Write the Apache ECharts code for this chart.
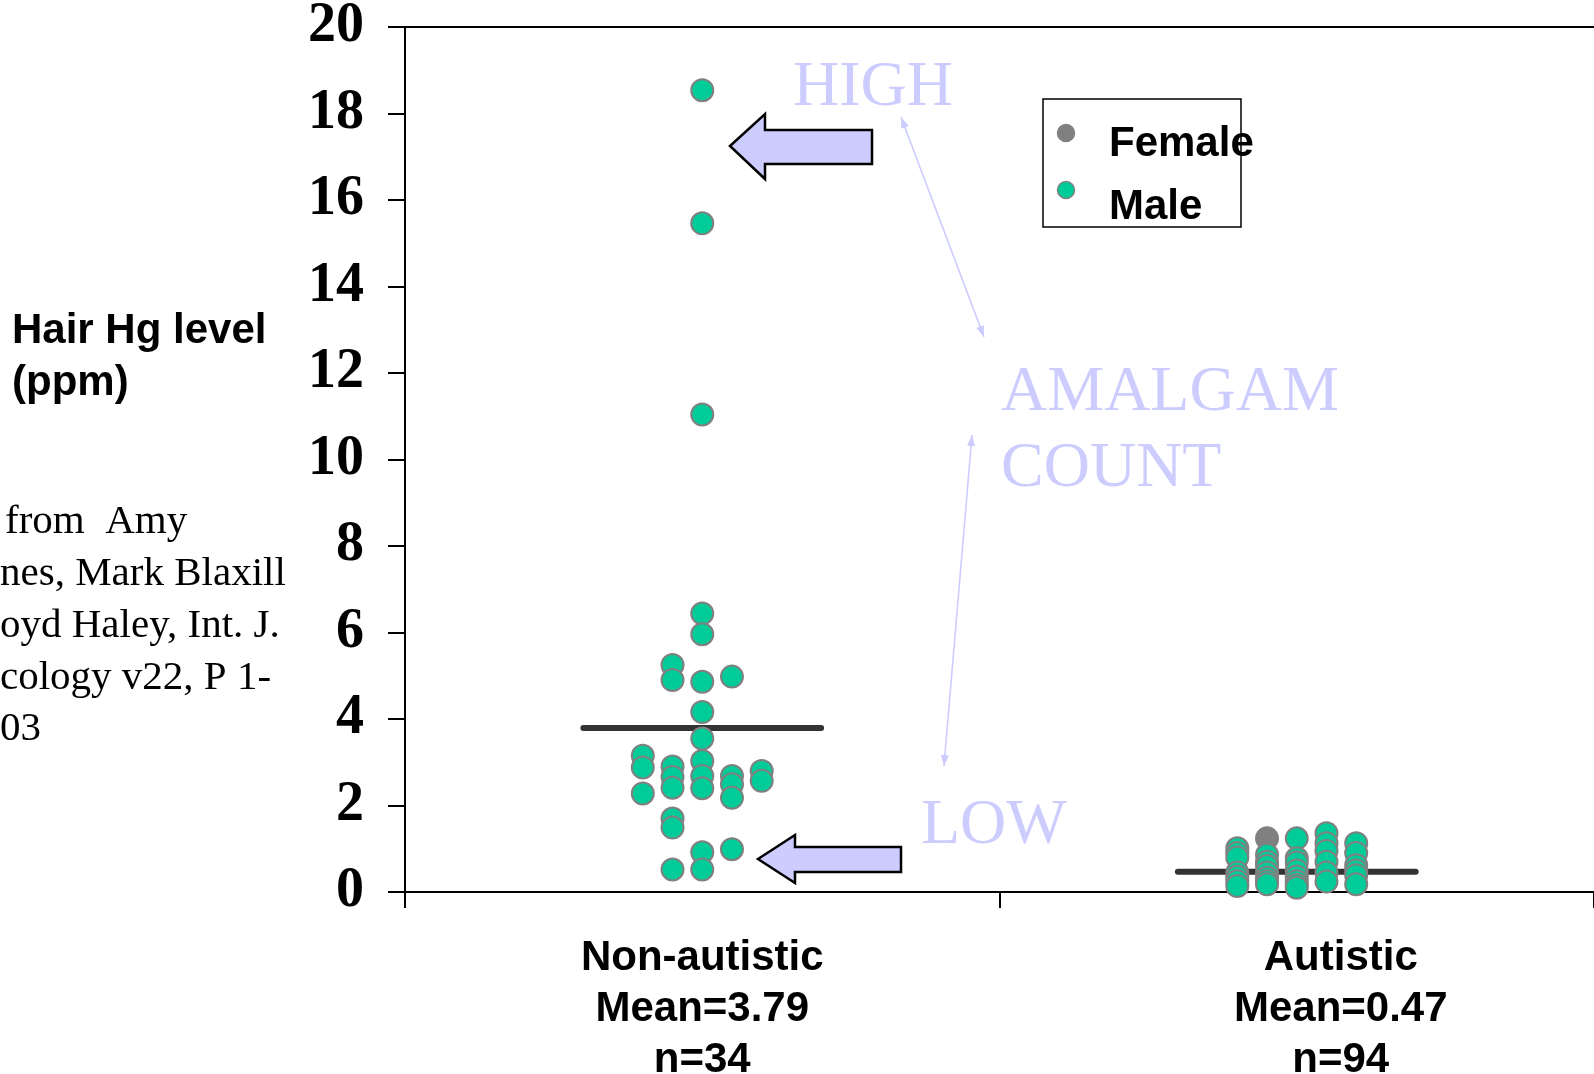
<!DOCTYPE html>
<html>
<head>
<meta charset="utf-8">
<script src="https://cdn.jsdelivr.net/npm/echarts@6/dist/echarts.min.js"></script>
<style>
  html, body { margin: 0; padding: 0; background: #fff; }
  #chart { width: 1594px; height: 1074px; }
</style>
</head>
<body>
<div id="chart"></div>
<script>
// groups on the x axis
const categories = ['Non-autistic', 'Autistic'];
const groupMeans = [3.79, 0.47];
const groupCounts = [34, 94];

// y axis ticks
const yMin = 0;
const yMax = 20;
const yStep = 2;

// points: [jitter column (-2..2), hair Hg ppm]
const nonAutisticMale = [
  [0, 18.54], [0, 15.46], [0, 11.04], [0, 6.44], [0, 5.96],
  [-1, 5.25], [-1, 4.90], [0, 4.86], [1, 4.98], [0, 4.16], [0, 3.55],
  [-2, 3.15], [0, 3.03], [-2, 2.88], [-1, 2.90], [2, 2.80],
  [-1, 2.66], [0, 2.68], [1, 2.68], [2, 2.57], [1, 2.49],
  [-1, 2.41], [0, 2.40], [-2, 2.28], [1, 2.18],
  [-1, 1.70], [-1, 1.49], [1, 0.99], [0, 0.92], [-1, 0.52], [0, 0.52]
];
const autisticFemale = [[-1, 1.24]];
const autisticMale = [
  [-2, 1.01], [-2, 0.90], [-2, 0.80], [-2, 0.45], [-2, 0.35], [-2, 0.25], [-2, 0.14],
  [-1, 0.86], [-1, 0.70], [-1, 0.60], [-1, 0.45], [-1, 0.33], [-1, 0.25], [-1, 0.18],
  [0, 1.24], [0, 0.78], [0, 0.68], [0, 0.50], [0, 0.36], [0, 0.25], [0, 0.16], [0, 0.10],
  [1, 1.36], [1, 1.13], [1, 0.95], [1, 0.70], [1, 0.45], [1, 0.24],
  [2, 1.13], [2, 0.90], [2, 0.62], [2, 0.50], [2, 0.39], [2, 0.18]
];

const GREEN = '#00CC99';
const GREY = '#808080';
const LILAC = '#CCCCFF';
const SANS = '"Liberation Sans", Arial, sans-serif';
const SERIF = '"Liberation Serif", "Times New Roman", serif';

const colStep = 0.05;
const meanHalf = 0.2;
const toXY = (center) => (p) => [center + p[0] * colStep, p[1]];

const chart = echarts.init(document.getElementById('chart'));

function arrowHead(tip, from, len, half) {
  const dx = tip[0] - from[0], dy = tip[1] - from[1];
  const d = Math.hypot(dx, dy);
  const ux = dx / d, uy = dy / d;
  const bx = tip[0] - ux * len, by = tip[1] - uy * len;
  return [[tip[0], tip[1]], [bx - uy * half, by + ux * half], [bx + uy * half, by - ux * half]];
}

function doubleArrow(a, b) {
  return [
    { type: 'line', shape: { x1: a[0], y1: a[1], x2: b[0], y2: b[1] }, style: { stroke: LILAC, lineWidth: 1.6 } },
    { type: 'polygon', shape: { points: arrowHead(a, b, 11, 4) }, style: { fill: LILAC } },
    { type: 'polygon', shape: { points: arrowHead(b, a, 11, 4) }, style: { fill: LILAC } }
  ];
}

function txt(x, y, text, font, size, color, weight) {
  return {
    type: 'text', x: x, y: y,
    style: { text: text, fill: color, font: (weight || 'normal') + ' ' + size + 'px ' + font, verticalAlign: 'middle' }
  };
}

function dot(x, y, fill) {
  return { type: 'circle', shape: { cx: x, cy: y, r: 8.5 }, style: { fill: fill, stroke: GREY, lineWidth: 1.5 } };
}

const citation = ['from  Amy', 'nes, Mark Blaxill', 'oyd Haley, Int. J.', 'cology v22, P 1-', '03'];

const option = {
  animation: false,
  backgroundColor: '#fff',
  grid: { left: 405, top: 27, right: 0, bottom: 182, outerBoundsMode: 'none', containLabel: false },
  xAxis: [
    {
      type: 'category',
      data: categories,
      position: 'bottom',
      boundaryGap: true,
      axisLine: { lineStyle: { color: '#000', width: 2 } },
      axisTick: { show: true, length: 16, lineStyle: { color: '#000', width: 2 } },
      axisLabel: {
        margin: 41,
        formatter: (val, i) => {
          const s = i === 1 ? 'b' : 'a';
          return '{' + s + '|' + val + '}\n{' + s + '|Mean=' + groupMeans[i].toFixed(2) + '}\n{' + s + '|n=' + groupCounts[i] + '}';
        },
        rich: {
          a: { fontFamily: SANS, fontWeight: 'bold', fontSize: 42, lineHeight: 51, color: '#000' },
          b: { fontFamily: SANS, fontWeight: 'bold', fontSize: 42, lineHeight: 51, color: '#000', padding: [0, 0, 0, 88] }
        }
      },
      splitLine: { show: false }
    },
    {
      type: 'value',
      position: 'top',
      min: 0, max: 2,
      axisLine: { show: true, lineStyle: { color: '#000', width: 2 } },
      axisTick: { show: false },
      axisLabel: { show: false },
      splitLine: { show: false }
    }
  ],
  yAxis: {
    type: 'value',
    min: yMin, max: yMax, interval: yStep,
    axisLine: { show: true, lineStyle: { color: '#000', width: 2 } },
    axisTick: { show: true, length: 17, lineStyle: { color: '#000', width: 2 } },
    axisLabel: { margin: 41, fontFamily: SERIF, fontWeight: 'bold', fontSize: 56, color: '#000' },
    splitLine: { show: false }
  },
  series: [
    {
      name: 'mean-non', type: 'line', xAxisIndex: 1, symbol: 'none', z: 1,
      lineStyle: { color: '#333333', width: 6, cap: 'round' },
      data: [[0.5 - meanHalf, groupMeans[0]], [0.5 + meanHalf, groupMeans[0]]]
    },
    {
      name: 'mean-aut', type: 'line', xAxisIndex: 1, symbol: 'none', z: 1,
      lineStyle: { color: '#333333', width: 6, cap: 'round' },
      data: [[1.5 - meanHalf, groupMeans[1]], [1.5 + meanHalf, groupMeans[1]]]
    },
    {
      name: 'Female', type: 'scatter', xAxisIndex: 1, symbolSize: 22, z: 2,
      itemStyle: { color: GREY, borderColor: GREY, borderWidth: 2, opacity: 1 },
      data: autisticFemale.map(toXY(1.5))
    },
    {
      name: 'Male', type: 'scatter', xAxisIndex: 1, symbolSize: 22, z: 3,
      itemStyle: { color: GREEN, borderColor: GREY, borderWidth: 2, opacity: 1 },
      data: nonAutisticMale.map(toXY(0.5)).concat(autisticMale.map(toXY(1.5)))
    }
  ],
  graphic: [
    txt(12, 331.5, 'Hair Hg level', SANS, 42, '#000', 'bold'),
    txt(12, 383.5, '(ppm)', SANS, 42, '#000', 'bold'),
    txt(5, 522, citation[0], SERIF, 41, '#000'),
    txt(0, 574, citation[1], SERIF, 41, '#000'),
    txt(0, 626, citation[2], SERIF, 41, '#000'),
    txt(0, 678, citation[3], SERIF, 41, '#000'),
    txt(0, 729, citation[4], SERIF, 41, '#000'),
    txt(793, 88.5, 'HIGH', SERIF, 64, LILAC),
    txt(1001, 393, 'AMALGAM', SERIF, 64, LILAC),
    txt(1001, 469, 'COUNT', SERIF, 64, LILAC),
    txt(921, 826, 'LOW', SERIF, 64, LILAC),
    ...doubleArrow([901, 117], [984, 337]),
    ...doubleArrow([972, 435], [944, 766]),
    {
      type: 'polygon',
      shape: { points: [[730, 146], [765, 114], [765, 130], [872, 130], [872, 164], [765, 164], [765, 179]] },
      style: { fill: LILAC, stroke: '#000', lineWidth: 2.5 }
    },
    {
      type: 'polygon',
      shape: { points: [[758, 859], [795, 835], [795, 847], [901, 847], [901, 872], [795, 872], [795, 883]] },
      style: { fill: LILAC, stroke: '#000', lineWidth: 2.5 }
    },
    // legend
    dot(1066, 133, GREY),
    dot(1066, 190, GREEN),
    txt(1109, 144, 'Female', SANS, 42, '#000', 'bold'),
    txt(1109, 207, 'Male', SANS, 42, '#000', 'bold'),
    {
      type: 'rect',
      shape: { x: 1043, y: 99, width: 198, height: 128 },
      style: { fill: 'none', stroke: '#000', lineWidth: 1.5 }
    }
  ]
};

chart.setOption(option);
</script>
</body>
</html>
